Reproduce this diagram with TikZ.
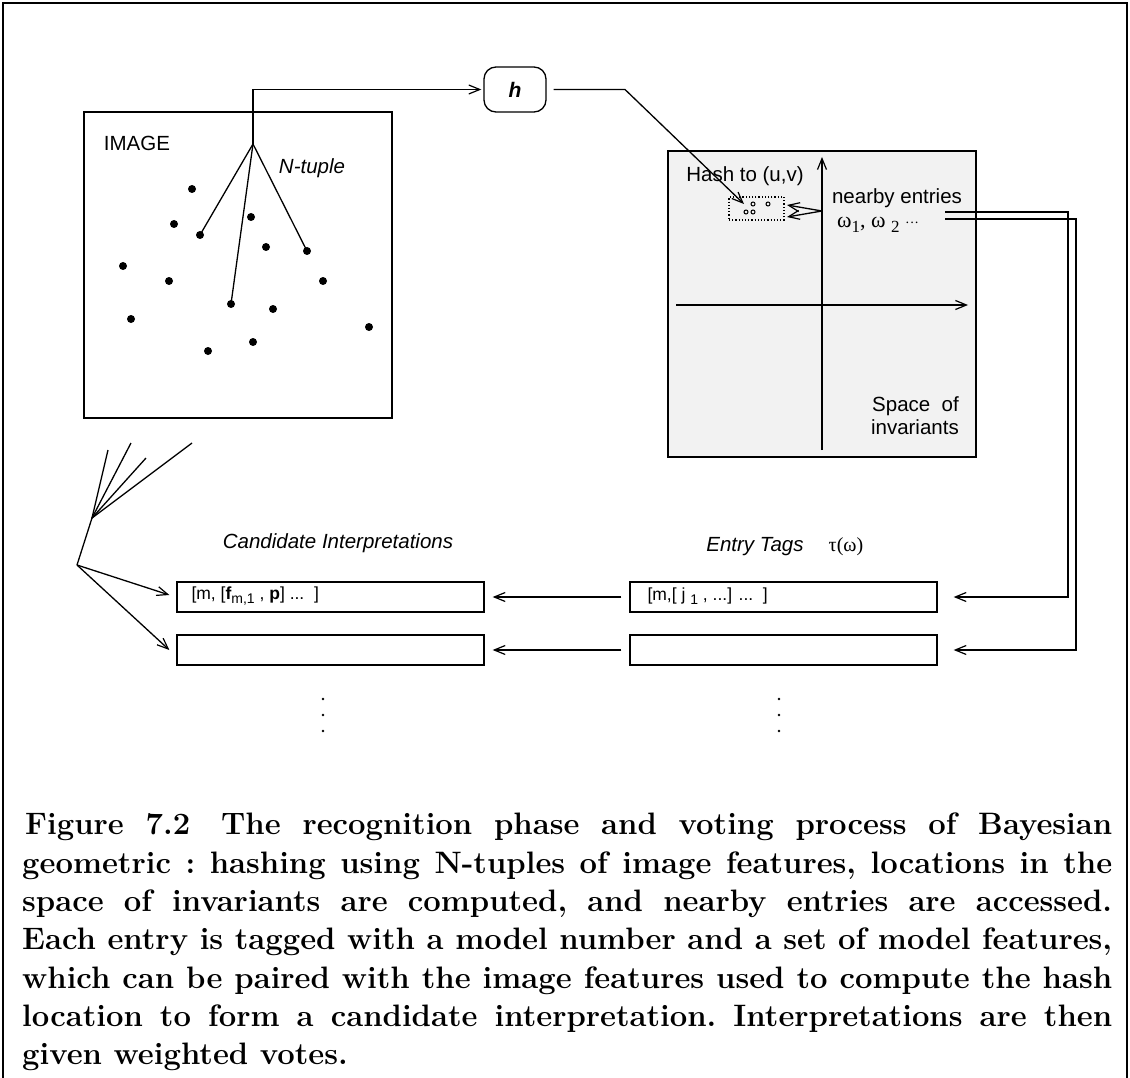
\documentclass[tikz,border=0pt]{standalone}
\usepackage{fontspec}
\newfontfamily\hv{Liberation Sans}
\newfontfamily\tm{Liberation Serif}
\usetikzlibrary{arrows.meta,calc}
\newcommand\lowsub[1]{\raisebox{-4pt}{\fontsize{14}{14}\selectfont #1}}
\newcommand\lowsubt[1]{\raisebox{-5pt}{\fontsize{17}{17}\selectfont #1}}
\begin{document}
\begin{tikzpicture}[x=1pt,y=-1pt,
  ln/.style={line width=1.3pt},
  arr/.style={ln,-{Straight Barb[length=11pt,width=9pt,line width=1.2pt]}},
  lbl/.style={font=\hv\fontsize{20.5}{24}\selectfont, inner sep=0pt},
  ilbl/.style={font=\hv\itshape\fontsize{20.5}{24}\selectfont, inner sep=0pt},
  dotn/.style={circle,fill=black,inner sep=0pt,minimum size=8pt},
  smalldot/.style={circle,fill=black,inner sep=0pt,minimum size=2.6pt},
  rowbox/.style={draw,line width=1.3pt,minimum width=307pt,minimum height=30pt,inner sep=0pt},
  boxtxt/.style={font=\hv\fontsize{17.5}{20}\selectfont, anchor=west, inner sep=0pt},
]
\useasboundingbox (0,0) rectangle (1130,1078);
\draw[line width=2.4pt] (3,1078) -- (3,3) -- (1127,3) -- (1127,1078);

% IMAGE box
\node[draw,ln,minimum width=308pt,minimum height=306pt] (img) at (238,265) {};
\node[lbl] (imglbl) at (137,143) {IMAGE};
\coordinate (v) at (253,144);
\foreach \p [count=\i] in {(192,189),(174,224),(200,235),(251,217),(266,247),(307,251),(123,266),(169,281),(323,281),(231,304),(273,309),(131,319),(369,327),(253,342),(208,351)}
  \node[dotn] (d\i) at \p {};
\node[ilbl] (nt) at (312,168) {N-tuple};
\draw[ln] (v) -- (d3.center);
\draw[ln] (v) -- (d10.center);
\draw[ln] (v) -- (d6.center);

% hash function
\node[draw,ln,rounded corners=12pt,minimum width=62pt,minimum height=45pt,inner sep=0pt,
  font=\hv\bfseries\itshape\fontsize{21}{24}\selectfont] (h) at (515,89.5) {h};
\draw[arr,shorten >=2pt] (v) |- (h.west);

% space of invariants
\node[draw,ln,fill=black!5,minimum width=308pt,minimum height=306pt] (sp) at (822,304) {};
\draw[arr] (822,450) -- (822,157);
\draw[arr] (676,305) -- (968,305);
\node[lbl] (hash) at (745,176) {Hash to (u,v)};
\node[draw,dotted,line width=1.2pt,minimum width=55pt,minimum height=23pt,inner sep=0pt] (db) at (756.5,208.5) {};
\foreach \p in {(746,212),(753,212),(753,204),(768,204)}
  \draw[line width=1pt] \p circle (2pt);
\coordinate (hb) at (625,89.5);
\coordinate (ht) at (744,204);
\draw[arr] ($(h.east)+(7,0)$) -- (hb) -- (ht);
\coordinate (ax) at (822,211);
\coordinate (a1) at (787,205);
\coordinate (a2) at (787,217);
\draw[arr] (ax) -- (a1);
\draw[arr] (ax) -- (a2);
\node[lbl] (near) at (897,198) {nearby entries};
\node[font=\tm\fontsize{22}{24}\selectfont,inner sep=0pt,anchor=west] (om) at (837,225)
  {ω\lowsubt{1}, ω \lowsubt{2} {\fontsize{14}{14}\selectfont ···}};
\node[lbl,align=right,anchor=east,font=\hv\fontsize{20.5}{23}\selectfont] (soi) at (959,416)
  {Space\ \ of\\invariants};

% rows
\node[ilbl] (ci) at (338,543) {Candidate Interpretations};
\node[ilbl] (et) at (755,547) {Entry Tags};
\node[font=\tm\fontsize{20}{24}\selectfont,inner sep=0pt] (tau) at (846,547) {τ(ω)};
\node[rowbox] (c1) at (330.5,597) {};
\node[rowbox] (c2) at (330.5,650) {};
\node[rowbox] (e1) at (783.5,597) {};
\node[rowbox] (e2) at (783.5,650) {};
\node[boxtxt] (c1t) at ($(c1.west)+(15,-1)$) {[m, [\textbf{f}\lowsub{m,1} , \textbf{p}] ...\ \ ]};
\node[boxtxt] (e1t) at ($(e1.west)+(18,-1)$) {[m,[ j \lowsub{1} , ...] ...\ \ ]};
\draw[arr] ($(e1.west)+(-8,0)$) -- ($(c1.east)+(8,0)$);
\draw[arr] ($(e2.west)+(-8,0)$) -- ($(c2.east)+(8,0)$);

% links from nearby entries
\coordinate (n1) at (945,212);
\coordinate (n2) at (945,219);
\draw[arr] (n1) -- (1068,212) -- (1068,597) -- ($(e1.east)+(16,0)$);
\draw[arr] (n2) -- (1076,219) -- (1076,650) -- ($(e2.east)+(16,0)$);

% fan
\coordinate (root) at (77,565);
\coordinate (mid) at (92,518);
\coordinate (f1) at (108,450);
\coordinate (f2) at (131,443);
\coordinate (f3) at (146,458);
\coordinate (f4) at (192,443);
\draw[ln] (root) -- (mid);
\foreach \f in {f1,f2,f3,f4} \draw[ln] (mid) -- (\f);
\draw[arr] (root) -- ($(c1.west)+(-7,-2)$);
\draw[arr] (root) -- ($(c2.west)+(-7,0)$);

% vertical ellipses
\foreach \x/\n in {323/a,779/b}
  \foreach \y [count=\k] in {699,715,731}
    \node[smalldot] (vd\n\k) at (\x,\y) {};

% caption
\node[anchor=north west, inner sep=0pt, text width=1090pt, align=justify,
  font=\bfseries\fontsize{31}{38.3}\selectfont] (cap) at (22,813)
  {\frenchspacing\hspace*{3pt}Figure 7.2\quad The recognition phase and voting process of Bayesian\linebreak
   geometric : hashing using N-tuples of image features, locations in the\linebreak
   space of invariants are computed, and nearby entries are accessed.\linebreak
   Each entry is tagged with a model number and a set of model features,\linebreak
   which can be paired with the image features used to compute the hash\linebreak
   location to form a candidate interpretation. Interpretations are then\linebreak
   given weighted votes.};
\end{tikzpicture}
\end{document}
